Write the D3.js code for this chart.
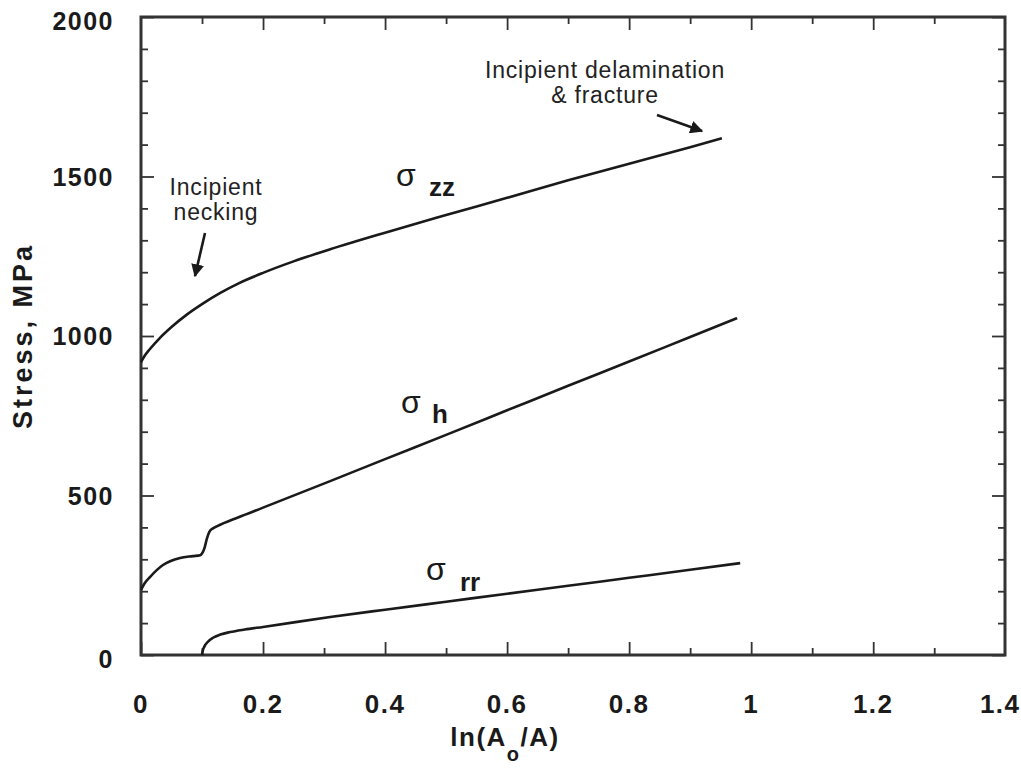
<!DOCTYPE html>
<html>
<head>
<meta charset="utf-8">
<script src="https://cdn.jsdelivr.net/npm/d3@7"></script>
<style>
body { margin: 0; background: #fff; }
</style>
</head>
<body>
<div id="chart"></div>
<script>
// curves: [ln(Ao/A), stress MPa]
var sigmaZZ = [[0,918],[0.005,935],[0.015,960],[0.03,992],[0.05,1028],[0.075,1067],[0.1,1100],[0.13,1135],[0.16,1165],[0.2,1198],[0.25,1234],[0.31,1272],[0.4,1324],[0.5,1379],[0.6,1433],[0.7,1488],[0.8,1540],[0.9,1592],[0.952,1620]];
var sigmaH = [[0,204],[0.006,225],[0.015,245],[0.036,282],[0.064,304],[0.085,310],[0.097,313],[0.1,318],[0.104,335],[0.108,365],[0.112,386],[0.118,397],[0.125,404],[0.16,432],[0.2,462],[0.31,545],[0.4,614],[0.5,690],[0.6,767],[0.7,844],[0.8,920],[0.9,997],[0.977,1056]];
var sigmaRR = [[0.1,0],[0.101,12],[0.104,27],[0.11,42],[0.118,54],[0.13,64],[0.146,72],[0.17,80],[0.2,88],[0.31,119],[0.4,142],[0.5,167],[0.6,192],[0.7,217],[0.8,242],[0.9,267],[0.982,288]];

var xMajor = [0, 0.2, 0.4, 0.6, 0.8, 1, 1.2, 1.4];
var xMinor = [0.1, 0.3, 0.5, 0.7, 0.9, 1.1, 1.3];
var yMajor = [0, 500, 1000, 1500, 2000];
var yMinor = [100,200,300,400,600,700,800,900,1100,1200,1300,1400,1600,1700,1800,1900];

var width = 1021, height = 774;
var xFrameMax = 1.416;

var svg = d3.select("#chart").append("svg")
    .attr("width", width)
    .attr("height", height);

var x = d3.scaleLinear().domain([0, xFrameMax]).range([141, 1005]);
var y = d3.scaleLinear().domain([0, 2000]).range([655, 17]);

var fontFam = "'Liberation Sans', Arial, Helvetica, sans-serif";
var ink = "#1a1a1a";

// ticks (inward, all four sides)
function tickAxis(axis, vals, size, tx, ty) {
  var g = svg.append("g")
      .attr("transform", "translate(" + tx + "," + ty + ")")
      .call(axis.tickValues(vals).tickSize(size).tickFormat(""));
  g.select(".domain").remove();
  g.selectAll(".tick line").attr("stroke", "#333").attr("stroke-width", 1.8);
  return g;
}
tickAxis(d3.axisBottom(x), xMajor.filter(function(d){ return d < 1.4; }), -13, 0, y(0));
tickAxis(d3.axisBottom(x), xMinor, -7, 0, y(0));
tickAxis(d3.axisTop(x), xMajor.filter(function(d){ return d > 0 && d < 1.4; }), -13, 0, y(2000));
tickAxis(d3.axisTop(x), xMinor, -7, 0, y(2000));
tickAxis(d3.axisLeft(y), yMajor, -13, x(0), 0);
tickAxis(d3.axisLeft(y), yMinor, -7, x(0), 0);
tickAxis(d3.axisRight(y), yMajor, -13, x(xFrameMax), 0);
tickAxis(d3.axisRight(y), yMinor, -7, x(xFrameMax), 0);

// frame
svg.append("rect")
    .attr("x", x(0))
    .attr("y", y(2000))
    .attr("width", x(xFrameMax) - x(0))
    .attr("height", y(0) - y(2000))
    .attr("fill", "none")
    .attr("stroke", "#333")
    .attr("stroke-width", 3);

// tick labels
svg.selectAll(".xlab").data(xMajor).enter().append("text")
    .attr("x", function(d){ return x(d) + (d === 1.4 ? 5 : 0); })
    .attr("y", 713)
    .attr("text-anchor", "middle")
    .style("font-family", fontFam)
    .style("font-weight", "bold")
    .style("font-size", "26px")
    .style("letter-spacing", "1.5px")
    .style("fill", ink)
    .text(function(d){ return d3.format("")(d); });

svg.selectAll(".ylab").data(yMajor).enter().append("text")
    .attr("x", 114)
    .attr("y", function(d){ return y(d) + 9 + (d === 2000 || d === 0 ? 4 : 0); })
    .attr("text-anchor", "end")
    .style("font-family", fontFam)
    .style("font-weight", "bold")
    .style("font-size", "25px")
    .style("letter-spacing", "1.5px")
    .style("fill", ink)
    .text(function(d){ return d; });

// axis titles
var xt = svg.append("text")
    .attr("x", 505)
    .attr("y", 746)
    .attr("text-anchor", "middle")
    .style("font-family", fontFam)
    .style("font-weight", "bold")
    .style("font-size", "26px")
    .style("letter-spacing", "1.5px")
    .style("fill", ink);
xt.append("tspan").text("ln(A");
xt.append("tspan").attr("dy", 15).style("font-size", "20px").text("o");
xt.append("tspan").attr("dy", -15).text("/A)");

svg.append("text")
    .attr("transform", "translate(32,336) rotate(-90)")
    .attr("text-anchor", "middle")
    .style("font-family", fontFam)
    .style("font-weight", "bold")
    .style("font-size", "27px")
    .style("letter-spacing", "3px")
    .style("fill", ink)
    .text("Stress, MPa");

// curves
var line = d3.line()
    .x(function(d){ return x(d[0]); })
    .y(function(d){ return y(d[1]); })
    .curve(d3.curveMonotoneX);

[sigmaZZ, sigmaH, sigmaRR].forEach(function(s) {
  svg.append("path")
      .datum(s)
      .attr("d", line)
      .attr("fill", "none")
      .attr("stroke", ink)
      .attr("stroke-width", 2.6);
});

// curve labels
function sigLabel(cx, cy, sub, sx, sy) {
  svg.append("text")
      .attr("x", cx).attr("y", cy)
      .style("font-family", fontFam)
      .style("font-size", "32px")
      .style("fill", ink)
      .text("σ");
  svg.append("text")
      .attr("x", sx).attr("y", sy)
      .style("font-family", fontFam)
      .style("font-weight", "bold")
      .style("font-size", "26px")
      .style("fill", ink)
      .text(sub);
}
sigLabel(396, 186, "zz", 429, 196);
sigLabel(401, 413, "h", 432, 423);
sigLabel(426, 580, "rr", 460, 591);

// annotations
var defs = svg.append("defs");
defs.append("marker")
    .attr("id", "arrow")
    .attr("viewBox", "0 0 10 10")
    .attr("refX", 9).attr("refY", 5)
    .attr("markerWidth", 5).attr("markerHeight", 5)
    .attr("orient", "auto")
    .append("path")
    .attr("d", "M0,0 L10,5 L0,10 z")
    .attr("fill", ink);

function note(lines, cx, y0, dy) {
  lines.forEach(function(t, i) {
    svg.append("text")
        .attr("x", cx).attr("y", y0 + i * dy)
        .attr("text-anchor", "middle")
        .style("font-family", fontFam)
        .style("font-size", "23px")
        .style("letter-spacing", "0.8px")
        .style("fill", "#222")
        .text(t);
  });
}
note(["Incipient", "necking"], 216, 195, 25);
note(["Incipient delamination", "& fracture"], 605, 78, 25);

svg.append("line")
    .attr("x1", 205).attr("y1", 233).attr("x2", 195).attr("y2", 276)
    .attr("stroke", ink).attr("stroke-width", 2.6)
    .attr("marker-end", "url(#arrow)");
svg.append("line")
    .attr("x1", 657).attr("y1", 115).attr("x2", 702).attr("y2", 131)
    .attr("stroke", ink).attr("stroke-width", 2.6)
    .attr("marker-end", "url(#arrow)");
</script>
</body>
</html>
